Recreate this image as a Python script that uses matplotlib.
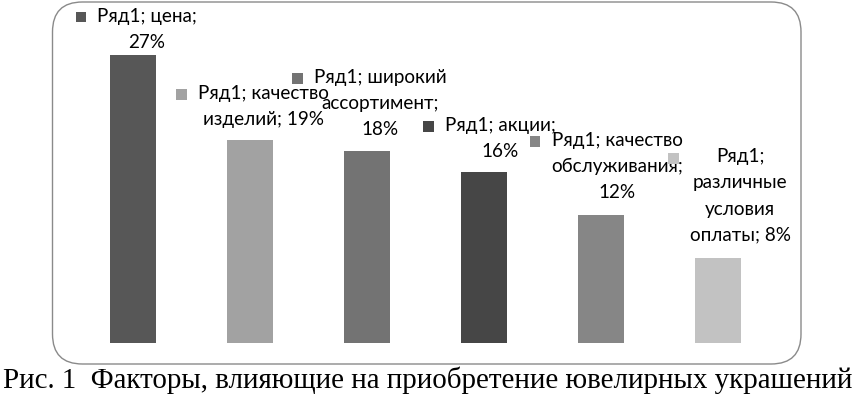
import matplotlib
matplotlib.use("Agg")
import matplotlib.pyplot as plt
from matplotlib.patches import FancyBboxPatch, Rectangle

# data
series_name = "Ряд1"
categories = ["цена", "качество изделий", "широкий ассортимент", "акции",
              "качество обслуживания", "различные условия оплаты"]
values = [27, 19, 18, 16, 12, 8]
label_texts = [
    "Ряд1; цена;\n27%",
    "Ряд1; качество\nизделий; 19%",
    "Ряд1; широкий\nассортимент;\n18%",
    "Ряд1; акции;\n16%",
    "Ряд1; качество\nобслуживания;\n12%",
    "Ряд1;\nразличные\nусловия\nоплаты; 8%",
]
colors = ["#575757", "#a2a2a2", "#737373", "#464646", "#868686", "#c2c2c2"]
caption = "Рис. 1  Факторы, влияющие на приобретение ювелирных украшений"

W, H = 855, 399
fig = plt.figure(figsize=(W / 100, H / 100), dpi=100)

# rounded chart frame
frame = FancyBboxPatch((52.5 / W, (H - 364) / H), (801 - 52.5) / W, 362 / H,
                       boxstyle="round,pad=0,rounding_size=0.035",
                       transform=fig.transFigure, facecolor="none",
                       edgecolor="#8a8a8a", linewidth=1.0,
                       mutation_aspect=W / H, zorder=-1)
fig.patches.append(frame)

ax = fig.add_axes([74.5 / W, (H - 343) / H, 702 / W, 320 / H])
ax.patch.set_alpha(0)
x = list(range(len(values)))
ax.bar(x, values, width=0.4, color=colors)
ax.set_xlim(-0.5, len(values) - 0.5)
ax.set_ylim(0, 30)
ax.axis("off")

# label offsets (px) from bar top centre
gaps = [4, 12, 13, 12, 14, 14]
dx = [14, 13, 13, 16, 16, 22]
texts = []
for i, (v, t) in enumerate(zip(values, label_texts)):
    tx = ax.annotate(t, (i, v), xytext=(dx[i] * 0.72, gaps[i] * 0.72),
                     textcoords="offset points", ha="center", va="bottom",
                     multialignment="center", fontsize=13.6, family="Lato",
                     color="black", linespacing=1.65)
    texts.append(tx)

fig.canvas.draw()
r = fig.canvas.get_renderer()
for i, tx in enumerate(texts):
    bb = tx.get_window_extent(r)
    nlines = tx.get_text().count("\n") + 1
    line_h = bb.height / nlines
    s = 10.5
    cy = bb.y1 - line_h * 0.42
    fig.patches.append(Rectangle(((bb.x0 - 11 - s) / W, (cy - s / 2) / H), s / W, s / H,
                                 transform=fig.transFigure, facecolor=colors[i],
                                 edgecolor="none"))

fig.text(0.5, (H - 380) / H, caption, ha="center", va="center",
         family="Liberation Serif", fontsize=20.9, color="black")

fig.savefig("out.png", dpi=100)
